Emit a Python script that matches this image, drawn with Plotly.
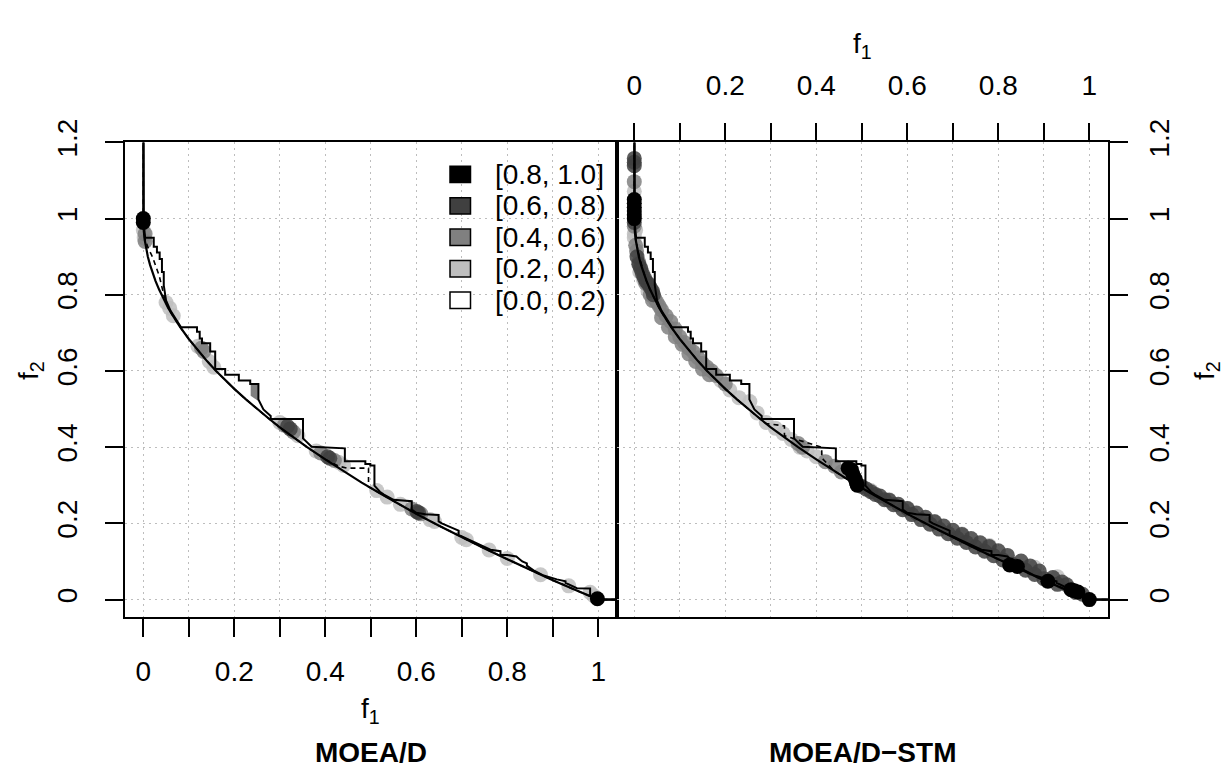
import plotly.graph_objects as go

# the page body adds an 8px margin, so the figure is drawn 8px smaller and
# every reference pixel position is shifted by that amount
OFF = 8
W, H = 1229 - OFF, 772 - OFF
FONT = "Liberation Sans, Arial, sans-serif"


def px(v):
    return (v - OFF) / W


def py(v):
    return 1 - (v - OFF) / H


# grand-best attainment surface (lower solid line), same in both panels
best_f1 = [0.0, 0.0, 0.001, 0.003, 0.006, 0.01, 0.015, 0.02, 0.027, 0.035, 0.045, 0.055, 0.065,
           0.08, 0.1, 0.12, 0.14, 0.16, 0.18, 0.2, 0.225, 0.25, 0.275, 0.3, 0.33, 0.36, 0.4,
           0.44, 0.48, 0.52, 0.56, 0.6, 0.65, 0.7, 0.75, 0.8, 0.85, 0.9, 0.95, 1.0, 1.5]
best_f2 = [1.5, 1.0, 0.968, 0.945, 0.923, 0.9, 0.878, 0.859, 0.836, 0.813, 0.788, 0.765, 0.745,
           0.717, 0.684, 0.654, 0.626, 0.6, 0.576, 0.553, 0.526, 0.5, 0.476, 0.452, 0.426,
           0.4, 0.368, 0.337, 0.307, 0.279, 0.252, 0.225, 0.194, 0.163, 0.134, 0.106, 0.078,
           0.051, 0.025, 0.0, 0.0]

# grand-worst attainment surface (upper solid staircase), vertices
worst_f1 = [0.0, 0.0, 0.004, 0.023, 0.023, 0.03, 0.03, 0.036, 0.036, 0.041, 0.041, 0.045, 0.045,
            0.05, 0.06, 0.07, 0.083, 0.118, 0.118, 0.124, 0.124, 0.129, 0.129, 0.147, 0.147,
            0.158, 0.158, 0.18, 0.18, 0.21, 0.21, 0.235, 0.235, 0.253, 0.253, 0.264, 0.28,
            0.28, 0.351, 0.351, 0.362, 0.37, 0.443, 0.443, 0.488, 0.488, 0.499, 0.499, 0.508,
            0.508, 0.52, 0.528, 0.55, 0.59, 0.59, 0.6, 0.62, 0.649, 0.649, 0.656, 0.675, 0.693,
            0.693, 0.72, 0.745, 0.763, 0.785, 0.785, 0.8, 0.82, 0.825, 0.833, 0.843, 0.843,
            0.86, 0.88, 0.909, 0.928, 0.928, 0.94, 0.953, 0.982, 0.982, 0.99, 1.0, 1.5]
worst_f2 = [1.5, 1.0, 0.95, 0.95, 0.926, 0.926, 0.911, 0.911, 0.894, 0.894, 0.86, 0.86, 0.825,
            0.785, 0.758, 0.74, 0.715, 0.715, 0.703, 0.703, 0.685, 0.685, 0.673, 0.673, 0.651,
            0.651, 0.605, 0.605, 0.59, 0.59, 0.575, 0.575, 0.566, 0.566, 0.525, 0.499, 0.482,
            0.474, 0.474, 0.423, 0.41, 0.401, 0.397, 0.363, 0.363, 0.356, 0.356, 0.352, 0.352,
            0.299, 0.283, 0.276, 0.262, 0.258, 0.236, 0.228, 0.224, 0.222, 0.205, 0.2, 0.19,
            0.181, 0.17, 0.155, 0.14, 0.131, 0.127, 0.117, 0.117, 0.113, 0.108, 0.1, 0.095,
            0.089, 0.075, 0.063, 0.053, 0.048, 0.044, 0.037, 0.03, 0.029, 0.012, 0.006, 0.0, 0.0]

# median attainment surfaces (dashed), vertices
med_l_f1 = [0.0, 0.0, 0.003, 0.01, 0.02, 0.027, 0.035, 0.045, 0.055, 0.065, 0.08, 0.1, 0.12,
            0.14, 0.16, 0.18, 0.2, 0.225, 0.25, 0.275, 0.3, 0.33, 0.36, 0.4, 0.43, 0.448, 0.495,
            0.495, 0.52, 0.56, 0.6, 0.65, 0.7, 0.75, 0.8, 0.85, 0.9, 0.95, 1.0, 1.5]
med_l_f2 = [1.5, 1.0, 0.95, 0.925, 0.9, 0.875, 0.85, 0.8, 0.765, 0.745, 0.717, 0.684, 0.654,
            0.626, 0.6, 0.576, 0.553, 0.526, 0.5, 0.476, 0.452, 0.426, 0.4, 0.368, 0.35, 0.345,
            0.345, 0.296, 0.279, 0.252, 0.225, 0.194, 0.163, 0.134, 0.106, 0.078, 0.051, 0.025,
            0.0, 0.0]
med_r_f1 = [0.0, 0.0, 0.003, 0.01, 0.02, 0.027, 0.035, 0.045, 0.055, 0.065, 0.08, 0.1, 0.12,
            0.14, 0.16, 0.18, 0.2, 0.225, 0.25, 0.275, 0.29, 0.33, 0.33, 0.386, 0.412, 0.412,
            0.44, 0.48, 0.52, 0.56, 0.6, 0.65, 0.7, 0.75, 0.8, 0.85, 0.9, 0.95, 1.0, 1.5]
med_r_f2 = [1.5, 1.0, 0.945, 0.905, 0.862, 0.836, 0.813, 0.788, 0.765, 0.745, 0.717, 0.684,
            0.654, 0.626, 0.6, 0.576, 0.553, 0.526, 0.5, 0.476, 0.462, 0.456, 0.43, 0.41, 0.4,
            0.372, 0.337, 0.307, 0.279, 0.252, 0.225, 0.194, 0.163, 0.134, 0.106, 0.078, 0.051,
            0.025, 0.0, 0.0]

levels = ["[0.8, 1.0]", "[0.6, 0.8)", "[0.4, 0.6)", "[0.2, 0.4)", "[0.0, 0.2)"]
level_colors = ["#000000", "#404040", "#808080", "#BEBEBE", "#FFFFFF"]

# MOEA/D better (left panel), points per level
left_pts = {
    0: ([0.0, 0.0, 0.998], [1.0, 0.99, 0.002]),
    1: ([0.323, 0.317, 0.405, 0.41, 0.601, 0.605],
        [0.448, 0.455, 0.375, 0.371, 0.231, 0.228]),
    2: ([0.004, 0.004, 0.133, 0.128, 0.31, 0.33, 0.39, 0.42, 0.59, 0.61],
        [0.94, 0.96, 0.651, 0.66, 0.458, 0.44, 0.385, 0.365, 0.238, 0.225]),
    3: ([0.0, 0.002, 0.05, 0.058, 0.066, 0.12, 0.145, 0.155, 0.3, 0.34, 0.38, 0.43, 0.44,
         0.513, 0.536, 0.565, 0.63, 0.64, 0.7, 0.71, 0.76, 0.8, 0.873, 0.935, 0.982, 0.99],
        [0.97, 0.95, 0.78, 0.765, 0.745, 0.665, 0.625, 0.61, 0.465, 0.43, 0.39, 0.36, 0.352,
         0.286, 0.269, 0.25, 0.21, 0.205, 0.163, 0.157, 0.13, 0.108, 0.065, 0.036, 0.019, 0.01]),
}
left_area_f1 = [0.236, 0.252, 0.252, 0.236]
left_area_f2 = [0.566, 0.566, 0.522, 0.535]

# MOEA/D-STM better (right panel), points per level
right_pts = {
    0: ([0.0, 0.0, 0.0, 0.0, 0.0, 0.0, 0.47, 0.477, 0.48, 0.485, 0.488, 0.49, 0.825, 0.842,
         0.909, 0.96, 0.967, 0.975, 1.0],
        [1.0, 1.01, 1.02, 1.03, 1.04, 1.05, 0.345, 0.341, 0.33, 0.318, 0.307, 0.3, 0.091,
         0.087, 0.048, 0.026, 0.023, 0.02, 0.0]),
    1: ([0.0, 0.0, 0.0, 0.0, 0.006, 0.01, 0.014, 0.018, 0.022, 0.026, 0.03, 0.035, 0.04, 0.042,
         0.5, 0.52, 0.54, 0.56, 0.58, 0.6, 0.62, 0.64, 0.66, 0.68, 0.7, 0.72, 0.74, 0.76,
         0.78, 0.8, 0.82, 0.85, 0.87, 0.89, 0.92, 0.94, 0.95, 0.985,
         0.51, 0.53, 0.55, 0.57, 0.59, 0.61, 0.63, 0.65, 0.67, 0.69, 0.71, 0.73, 0.75, 0.77,
         0.79, 0.81, 0.83, 0.86, 0.88, 0.9, 0.93, 0.97],
        [1.158, 1.148, 1.139, 0.99, 0.9, 0.88, 0.87, 0.855, 0.845, 0.835, 0.83, 0.82, 0.81, 0.8,
         0.297, 0.283, 0.272, 0.261, 0.25, 0.239, 0.227, 0.216, 0.204, 0.193, 0.182, 0.171,
         0.16, 0.149, 0.139, 0.128, 0.116, 0.101, 0.088, 0.075, 0.058, 0.046, 0.039, 0.014,
         0.29, 0.276, 0.262, 0.249, 0.236, 0.223, 0.21, 0.198, 0.185, 0.173, 0.161, 0.15,
         0.138, 0.127, 0.115, 0.104, 0.093, 0.077, 0.066, 0.055, 0.04, 0.019]),
    2: ([0.0, 0.0, 0.003, 0.005, 0.01, 0.015, 0.025, 0.035, 0.04, 0.045, 0.05, 0.055, 0.06,
         0.06, 0.07, 0.075, 0.08, 0.09, 0.09, 0.1, 0.105, 0.11, 0.12, 0.12, 0.13, 0.135, 0.14,
         0.15, 0.15, 0.16, 0.165, 0.17, 0.18, 0.2, 0.36, 0.37, 0.42, 0.44, 0.455],
        [1.097, 0.98, 0.93, 0.915, 0.885, 0.865, 0.83, 0.8, 0.785, 0.79, 0.78, 0.77, 0.76,
         0.74, 0.745, 0.715, 0.73, 0.71, 0.69, 0.69, 0.67, 0.675, 0.66, 0.645, 0.65, 0.625,
         0.635, 0.62, 0.605, 0.61, 0.59, 0.6, 0.588, 0.566, 0.41, 0.4, 0.362, 0.35, 0.335]),
    3: ([0.0, 0.0, 0.0, 0.003, 0.012, 0.02, 0.03, 0.19, 0.21, 0.23, 0.254, 0.27, 0.29, 0.31,
         0.327, 0.345, 0.364, 0.38, 0.4, 0.52, 0.56, 0.6, 0.66, 0.72, 0.78, 0.88, 0.93],
        [1.072, 0.96, 0.95, 0.97, 0.86, 0.84, 0.81, 0.575, 0.55, 0.53, 0.52, 0.49, 0.465,
         0.45, 0.436, 0.42, 0.4, 0.39, 0.375, 0.286, 0.262, 0.24, 0.205, 0.172, 0.142,
         0.085, 0.06]),
}

x_ticks = [0, 0.2, 0.4, 0.6, 0.8, 1.0]
x_labels = ["0", "0.2", "0.4", "0.6", "0.8", "1"]
x_minor = [0.1, 0.3, 0.5, 0.7, 0.9]
y_ticks = [0, 0.2, 0.4, 0.6, 0.8, 1.0, 1.2]
y_labels = ["0", "0.2", "0.4", "0.6", "0.8", "1", "1.2"]

for xs, ys in [(worst_f1, worst_f2), (med_l_f1, med_l_f2), (med_r_f1, med_r_f2), (best_f1, best_f2)]:
    assert len(xs) == len(ys)
for pts in (left_pts, right_pts):
    for xs, ys in pts.values():
        assert len(xs) == len(ys)

fig = go.Figure()

for panel, pts, med in [("", left_pts, (med_l_f1, med_l_f2)), ("2", right_pts, (med_r_f1, med_r_f2))]:
    xa, ya = "x" + panel, "y" + panel
    if panel == "":
        fig.add_trace(go.Scatter(x=left_area_f1, y=left_area_f2, fill="toself", mode="lines",
                                 fillcolor=level_colors[2], line=dict(width=0),
                                 xaxis=xa, yaxis=ya, showlegend=False))
    for lv in [3, 2, 1]:
        fx, fy = pts[lv]
        fig.add_trace(go.Scatter(x=fx, y=fy, mode="markers", xaxis=xa, yaxis=ya, showlegend=False,
                                 marker=dict(size=15, color=level_colors[lv], opacity=0.85,
                                             line=dict(width=0))))
    fig.add_trace(go.Scatter(x=best_f1, y=best_f2, mode="lines", xaxis=xa, yaxis=ya,
                             showlegend=False, line=dict(color="black", width=2.2)))
    fig.add_trace(go.Scatter(x=worst_f1, y=worst_f2, mode="lines", xaxis=xa, yaxis=ya,
                             showlegend=False, line=dict(color="black", width=2)))
    fig.add_trace(go.Scatter(x=med[0], y=med[1], mode="lines", xaxis=xa, yaxis=ya,
                             showlegend=False,
                             line=dict(color="black", width=1.6, dash="5px,4px")))
    fx, fy = pts[0]
    fig.add_trace(go.Scatter(x=fx, y=fy, mode="markers", xaxis=xa, yaxis=ya, showlegend=False,
                             marker=dict(size=15, color="black", line=dict(width=0))))

grid = dict(showgrid=True, gridcolor="#bdbdbd", griddash="2px,4px", gridwidth=1)
axis_common = dict(
    showline=True, linecolor="black", linewidth=1.5, mirror=True,
    ticks="outside", ticklen=18, tickwidth=1.5, tickcolor="black",
    zeroline=False, tickfont=dict(family=FONT, size=28, color="black"), **grid,
)
minor_x = dict(tickvals=x_minor, ticks="outside", ticklen=18, tickwidth=1.5,
               tickcolor="black", **grid)

fig.update_layout(
    width=W, height=H, margin=dict(l=0, r=0, t=0, b=0),
    paper_bgcolor="white", plot_bgcolor="white", showlegend=False,
    xaxis=dict(domain=[px(125), px(617)], range=[-0.0402, 1.0411], anchor="y",
               tickvals=x_ticks, ticktext=x_labels, minor=minor_x, ticklabelstandoff=11,
               **axis_common),
    yaxis=dict(domain=[py(612), py(122)], range=[-0.0458, 1.2], anchor="x",
               tickvals=y_ticks, ticktext=y_labels, tickangle=-90, ticklabelstandoff=17,
               **axis_common),
    xaxis2=dict(domain=[px(617), px(1108)], range=[-0.038, 1.0411], anchor="y2", side="top",
                tickvals=x_ticks, ticktext=x_labels, minor=minor_x, ticklabelstandoff=16,
                **axis_common),
    yaxis2=dict(domain=[py(612), py(122)], range=[-0.0458, 1.2], anchor="x2",
                side="right", tickvals=y_ticks, ticktext=y_labels, tickangle=-90,
                ticklabelstandoff=8, **axis_common),
)

ann = []
shapes = []
row_y = [155, 187.5, 220, 252.5, 285]
for i, (lab, col) in enumerate(zip(levels, level_colors)):
    yc = row_y[i]
    shapes.append(dict(type="rect", xref="paper", yref="paper",
                       x0=px(450), x1=px(470.5), y0=py(yc - 8.5), y1=py(yc + 8.5),
                       fillcolor=col, line=dict(color="black", width=1.5)))
    ann.append(dict(text=lab, x=px(493), y=py(yc), xref="paper", yref="paper",
                    xanchor="left", yanchor="middle", showarrow=False,
                    font=dict(family=FONT, size=28, color="black")))

titles = [
    ("f<sub>1</sub>", 370, 708, 0, False),
    ("f<sub>2</sub>", 30, 358, -90, False),
    ("f<sub>1</sub>", 862, 22, 0, False),
    ("f<sub>2</sub>", 1206, 358, -90, False),
    ("MOEA/D", 371, 752, 0, True),
    ("MOEA/D\u2212STM", 862, 752, 0, True),
]
for txt, x, y, ang, bold in titles:
    ann.append(dict(text=f"<b>{txt}</b>" if bold else txt, x=px(x), y=py(y),
                    xref="paper", yref="paper", xanchor="center", yanchor="middle",
                    textangle=ang, showarrow=False,
                    font=dict(family=FONT, size=28, color="black")))

fig.update_layout(annotations=ann, shapes=shapes)
fig.write_html("out.html")
